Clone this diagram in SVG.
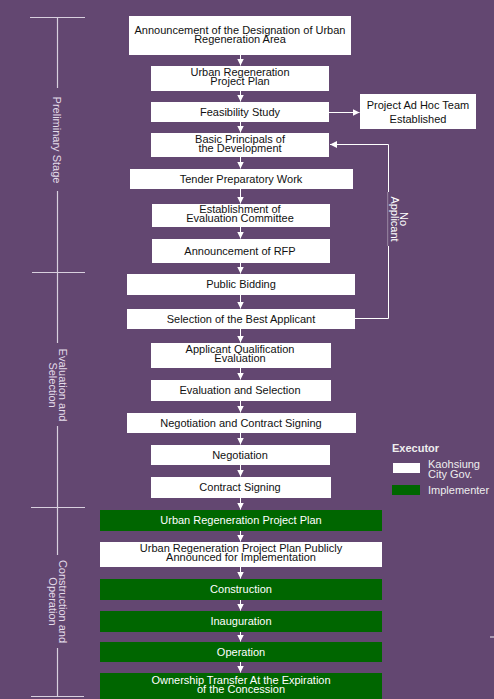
<svg xmlns="http://www.w3.org/2000/svg" width="494" height="699" viewBox="0 0 494 699">
<style>
.bg{fill:#634771}
.w{fill:#ffffff}
.g{fill:#006600}
.t{font-family:"Liberation Sans",Arial,sans-serif;font-size:11px;text-anchor:middle;fill:#111111}
.tg{font-family:"Liberation Sans",Arial,sans-serif;font-size:11px;text-anchor:middle;fill:#ffffff}
.st{font-family:"Liberation Sans",Arial,sans-serif;font-size:11px;text-anchor:middle;fill:#e4dcea}
.lg{font-family:"Liberation Sans",Arial,sans-serif;font-size:11px;fill:#eeeeee}
.c{stroke:#ffffff;stroke-width:1;fill:none}
.s{stroke:#d8d0de;stroke-width:1.2;fill:none}
</style>
<defs>
<marker id="ah" markerUnits="userSpaceOnUse" markerWidth="8" markerHeight="8" refX="7" refY="4" orient="auto">
<path d="M0,0.5 L7,4 L0,7.5 z" fill="#ffffff"/>
</marker>
</defs>
<rect class="bg" x="0" y="0" width="494" height="699"/>

<g id="stages">
<path class="s" d="M30,17.5 H85 M57.5,17.5 V88 M57.5,191 V343 M32,272.5 H85 M57.5,426 V507 M31,507.5 H85 M57.5,507 V555 M57.5,648 V697 M31,696.5 H84"/>
<path class="s" d="M490,637 H494"/>
<text class="st" transform="translate(57,140) rotate(90)" y="4">Preliminary Stage</text>
<text class="st" transform="translate(57,385) rotate(90)"><tspan x="0" y="-1.5">Evaluation and</tspan><tspan x="0" y="8.5">Selection</tspan></text>
<text class="st" transform="translate(57,601.5) rotate(90)"><tspan x="0" y="-1.5">Construction and</tspan><tspan x="0" y="8.5">Operation</tspan></text>
</g>

<g id="connectors">
<path class="c" d="M240.5,55 V65.5" marker-end="url(#ah)"/>
<path class="c" d="M240.5,91 V101.5" marker-end="url(#ah)"/>
<path class="c" d="M240.5,122 V132.5" marker-end="url(#ah)"/>
<path class="c" d="M240.5,157 V168.5" marker-end="url(#ah)"/>
<path class="c" d="M240.5,189 V203.5" marker-end="url(#ah)"/>
<path class="c" d="M240.5,227 V238.5" marker-end="url(#ah)"/>
<path class="c" d="M240.5,263 V273.5" marker-end="url(#ah)"/>
<path class="c" d="M240.5,295 V308.5" marker-end="url(#ah)"/>
<path class="c" d="M240.5,329 V342.5" marker-end="url(#ah)"/>
<path class="c" d="M240.5,368 V379.5" marker-end="url(#ah)"/>
<path class="c" d="M240.5,401 V412.5" marker-end="url(#ah)"/>
<path class="c" d="M240.5,433 V444.5" marker-end="url(#ah)"/>
<path class="c" d="M240.5,465 V476.5" marker-end="url(#ah)"/>
<path class="c" d="M240.5,498 V509.5" marker-end="url(#ah)"/>
<path class="c" d="M240.5,531 V541.5" marker-end="url(#ah)"/>
<path class="c" d="M240.5,567 V578.5" marker-end="url(#ah)"/>
<path class="c" d="M240.5,600 V610.5" marker-end="url(#ah)"/>
<path class="c" d="M240.5,632 V641.5" marker-end="url(#ah)"/>
<path class="c" d="M240.5,662 V672.5" marker-end="url(#ah)"/>
<path class="c" d="M329,112.5 H359.5" marker-end="url(#ah)"/>
<path class="c" d="M355,318.5 H388.5 V246 M388.5,192 V144.5 H330" marker-end="url(#ah)"/>
<path d="M387.7,192 V246" stroke="#ffffff" stroke-opacity="0.45" stroke-width="0.8" fill="none"/>
<text class="st" fill="#ffffff" transform="translate(399,219) rotate(90)" style="fill:#ffffff"><tspan x="0" y="-0.5">No</tspan><tspan x="0" y="8.5">Applicant</tspan></text>
</g>

<g id="n1"><rect class="w" x="129" y="16" width="222" height="39"/><text class="t" x="240" y="33.5">Announcement of the Designation of Urban<tspan x="240" y="42.5">Regeneration Area</tspan></text></g>
<g id="n2"><rect class="w" x="151" y="66" width="178" height="25"/><text class="t" x="240" y="76">Urban Regeneration<tspan x="240" y="85">Project Plan</tspan></text></g>
<g id="n3"><rect class="w" x="151" y="102" width="178" height="20"/><text class="t" x="240" y="115.5">Feasibility Study</text></g>
<g id="n4"><rect class="w" x="151" y="133" width="178" height="24"/><text class="t" x="240" y="142.5">Basic Principals of<tspan x="240" y="151.5">the Development</tspan></text></g>
<g id="n5"><rect class="w" x="130" y="169" width="223" height="20"/><text class="t" x="241" y="182.5">Tender Preparatory Work</text></g>
<g id="n6"><rect class="w" x="152" y="204" width="178" height="23"/><text class="t" x="240" y="213">Establishment of<tspan x="240" y="222">Evaluation Committee</tspan></text></g>
<g id="n7"><rect class="w" x="152" y="239" width="178" height="24"/><text class="t" x="240" y="254.5">Announcement of RFP</text></g>
<g id="n8"><rect class="w" x="127" y="274" width="228" height="21"/><text class="t" x="241" y="288">Public Bidding</text></g>
<g id="n9"><rect class="w" x="127" y="309" width="228" height="20"/><text class="t" x="241" y="322.5">Selection of the Best Applicant</text></g>
<g id="n10"><rect class="w" x="151" y="343" width="180" height="25"/><text class="t" x="240" y="353">Applicant Qualification<tspan x="240" y="362">Evaluation</tspan></text></g>
<g id="n11"><rect class="w" x="151" y="380" width="180" height="21"/><text class="t" x="240" y="394">Evaluation and Selection</text></g>
<g id="n12"><rect class="w" x="127" y="413" width="229" height="20"/><text class="t" x="241" y="426.5">Negotiation and Contract Signing</text></g>
<g id="n13"><rect class="w" x="151" y="445" width="179" height="20"/><text class="t" x="240" y="458.5">Negotiation</text></g>
<g id="n14"><rect class="w" x="151" y="477" width="180" height="21"/><text class="t" x="240" y="491">Contract Signing</text></g>
<g id="n15"><rect class="g" x="100" y="510" width="282" height="21"/><text class="tg" x="241" y="524">Urban Regeneration Project Plan</text></g>
<g id="n16"><rect class="w" x="100" y="542" width="282" height="25"/><text class="t" x="241" y="552">Urban Regeneration Project Plan Publicly<tspan x="241" y="561">Announced for Implementation</tspan></text></g>
<g id="n17"><rect class="g" x="100" y="579" width="282" height="21"/><text class="tg" x="241" y="593">Construction</text></g>
<g id="n18"><rect class="g" x="100" y="611" width="282" height="21"/><text class="tg" x="241" y="625">Inauguration</text></g>
<g id="n19"><rect class="g" x="100" y="642" width="282" height="20"/><text class="tg" x="241" y="655.5">Operation</text></g>
<g id="n20"><rect class="g" x="100" y="673" width="282" height="26"/><text class="tg" x="241" y="684">Ownership Transfer At the Expiration<tspan x="241" y="693">of the Concession</tspan></text></g>
<g id="n21"><rect class="w" x="360" y="94" width="116" height="35"/><text class="t" x="418" y="109">Project Ad Hoc Team<tspan x="418" y="123">Established</tspan></text></g>

<g id="legend">
<text class="lg" x="392" y="452" font-weight="bold">Executor</text>
<rect class="w" x="393" y="463" width="27" height="10"/>
<rect class="g" x="392" y="485" width="28" height="10"/>
<text class="lg" x="428" y="468">Kaohsiung<tspan x="428" y="478">City Gov.</tspan></text>
<text class="lg" x="428" y="493.5">Implementer</text>
</g>
</svg>
